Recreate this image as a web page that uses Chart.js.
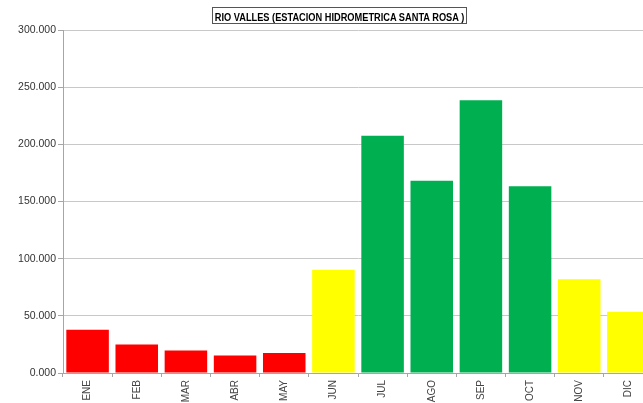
<!DOCTYPE html>
<html>
<head>
<meta charset="utf-8">
<script src="https://cdn.jsdelivr.net/npm/chart.js@4/dist/chart.umd.min.js"></script>
<style>
  html, body { margin: 0; padding: 0; background: #fff; overflow: hidden; }
  #wrap { position: relative; width: 660px; height: 403px; }
  #title {
    position: absolute; left: 212px; top: 7px; width: 253px; height: 15px;
    border: 1px solid #555; text-align: center; line-height: 15px; color: #000;
    white-space: nowrap; overflow: visible;
  }
  #title span {
    display: inline-block; font: bold 11px Arial, "Liberation Sans", sans-serif;
    transform: scaleX(0.84); transform-origin: center; margin: 0 -30px;
  }
</style>
</head>
<body>
<div id="wrap">
  <canvas id="chart" width="660" height="403"></canvas>
  <div id="title"><span>RIO VALLES (ESTACION HIDROMETRICA SANTA ROSA )</span></div>
</div>
<script>
const meses = ['ENE', 'FEB', 'MAR', 'ABR', 'MAY', 'JUN', 'JUL', 'AGO', 'SEP', 'OCT', 'NOV', 'DIC'];
const caudales = [37.8, 25.0, 19.6, 15.3, 17.6, 90.3, 207.5, 168.2, 238.6, 163.4, 82.0, 53.5];
const colores = ['#FF0000', '#FF0000', '#FF0000', '#FF0000', '#FF0000', '#FFFF00',
                 '#00B050', '#00B050', '#00B050', '#00B050', '#FFFF00', '#FFFF00'];
const yTicks = [0, 50, 100, 150, 200, 250, 300];

const ctx = document.getElementById('chart').getContext('2d');
new Chart(ctx, {
  type: 'bar',
  data: {
    labels: meses,
    datasets: [{
      data: caudales,
      backgroundColor: colores,
      borderWidth: 0,
      barPercentage: 0.865,
      categoryPercentage: 1
    }]
  },
  options: {
    responsive: false,
    animation: false,
    layout: { padding: { top: 30, right: 7, left: 0, bottom: 0 } },
    plugins: { legend: { display: false }, tooltip: { enabled: false } },
    scales: {
      x: {
        afterFit: s => { s.height = 30; },
        border: { color: '#a6a6a6' },
        grid: { offset: true, drawOnChartArea: false, tickLength: 4, color: '#a6a6a6' },
        ticks: {
          minRotation: 90, maxRotation: 90, padding: 3,
          color: '#444', font: { family: 'Arial, "Liberation Sans"', size: 10 }
        }
      },
      y: {
        min: 0, max: 300,
        afterFit: s => { s.width = 63; },
        afterBuildTicks: s => { s.ticks = yTicks.map(v => ({ value: v })); },
        border: { color: '#a6a6a6' },
        grid: { color: '#c8c8c8', tickLength: 5, tickColor: '#a6a6a6' },
        ticks: {
          padding: 2, color: '#333',
          font: { family: 'Arial, "Liberation Sans"', size: 10.5 },
          callback: v => v.toFixed(3)
        }
      }
    }
  }
});
</script>
</body>
</html>
